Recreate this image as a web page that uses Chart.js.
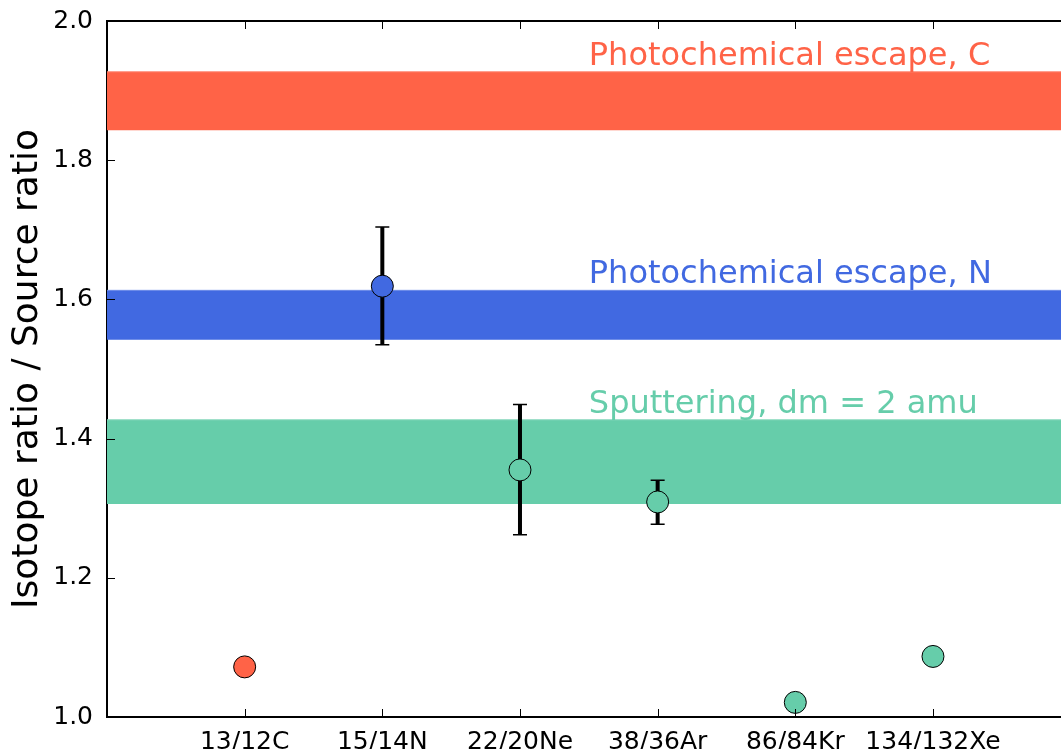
<!DOCTYPE html>
<html>
<head>
<meta charset="utf-8">
<script src="https://cdn.jsdelivr.net/npm/chart.js@4.4.0/dist/chart.umd.min.js"></script>
<style>
  html, body { margin: 0; background: #fff; overflow: hidden; }
</style>
</head>
<body>
<canvas id="ratioChart" width="1061" height="749"></canvas>
<script>
// isotope pairs along the x axis
const categories = ["13/12C", "15/14N", "22/20Ne", "38/36Ar", "86/84Kr", "134/132Xe"];
const catPos = [1, 2, 3, 4, 5, 6];
// measured ratio / source ratio
const ratios = [1.072, 1.619, 1.355, 1.309, 1.021, 1.087];
const errHigh = [null, 1.704, 1.449, 1.340, null, null];
const errLow = [null, 1.535, 1.262, 1.277, null, null];
const pointColors = ["#FF6347", "#4169E1", "#66CDAA", "#66CDAA", "#66CDAA", "#66CDAA"];

// model bands
const bandNames = ["Photochemical escape, C", "Photochemical escape, N", "Sputtering, dm = 2 amu"];
const bandLow = [1.843, 1.542, 1.306];
const bandHigh = [1.927, 1.613, 1.427];
const bandColors = ["#FF6347", "#4169E1", "#66CDAA"];
const bandEdge = ["#FF8A75", "#6C8BE8", "#8BD9BE"];

const yTicks = [1.0, 1.2, 1.4, 1.6, 1.8, 2.0];
const xMin = 0, xMax = 6.93;
const FONT = "DejaVu Sans";

// datasets: points first so they end up on top
const datasets = [{
  type: "scatter",
  data: catPos.map((x, i) => ({ x: x, y: ratios[i] })),
  pointRadius: 11,
  pointHoverRadius: 11,
  pointBackgroundColor: pointColors,
  pointBorderColor: "#000",
  pointBorderWidth: 1,
}];
for (let i = 0; i < bandNames.length; i++) {
  datasets.push({
    type: "line",
    data: [{ x: xMin, y: bandLow[i] }, { x: xMax, y: bandLow[i] }],
    borderWidth: 0,
    pointRadius: 0,
    fill: false,
  });
  datasets.push({
    type: "line",
    data: [{ x: xMin, y: bandHigh[i] }, { x: xMax, y: bandHigh[i] }],
    borderColor: bandEdge[i],
    borderWidth: 1,
    pointRadius: 0,
    backgroundColor: bandColors[i],
    fill: "-1",
  });
}

// error bars go under the markers
const errorBars = {
  id: "errorBars",
  beforeDatasetDraw(chart, args) {
    if (args.index !== 0) return;
    const ctx = chart.ctx, xs = chart.scales.x, ys = chart.scales.y;
    ctx.save();
    ctx.strokeStyle = "#000";
    for (let i = 0; i < catPos.length; i++) {
      if (errHigh[i] === null) continue;
      const px = xs.getPixelForValue(catPos[i]);
      const top = ys.getPixelForValue(errHigh[i]);
      const bot = ys.getPixelForValue(errLow[i]);
      ctx.lineWidth = 4;
      ctx.beginPath();
      ctx.moveTo(px, top);
      ctx.lineTo(px, bot);
      ctx.stroke();
      ctx.lineWidth = 1.5;
      ctx.beginPath();
      ctx.moveTo(px - 7, top);
      ctx.lineTo(px + 7, top);
      ctx.moveTo(px - 7, bot);
      ctx.lineTo(px + 7, bot);
      ctx.stroke();
    }
    ctx.restore();
  },
};

// band names just above each band
const bandLabels = {
  id: "bandLabels",
  afterDatasetsDraw(chart) {
    const ctx = chart.ctx, xs = chart.scales.x, ys = chart.scales.y;
    ctx.save();
    ctx.font = "32px '" + FONT + "'";
    ctx.textAlign = "left";
    ctx.textBaseline = "alphabetic";
    for (let i = 0; i < bandNames.length; i++) {
      ctx.fillStyle = bandColors[i];
      ctx.fillText(bandNames[i], xs.getPixelForValue(3.5), ys.getPixelForValue(bandHigh[i]) - 7);
    }
    ctx.restore();
  },
};

// matplotlib style inward ticks
const innerTicks = {
  id: "innerTicks",
  afterDraw(chart) {
    const ctx = chart.ctx, xs = chart.scales.x, ys = chart.scales.y;
    const a = chart.chartArea;
    ctx.save();
    ctx.strokeStyle = "#000";
    ctx.lineWidth = 1;
    ctx.beginPath();
    for (const v of catPos) {
      const px = Math.round(xs.getPixelForValue(v)) + 0.5;
      ctx.moveTo(px, a.bottom);
      ctx.lineTo(px, a.bottom - 8);
      ctx.moveTo(px, a.top);
      ctx.lineTo(px, a.top + 8);
    }
    for (const v of yTicks) {
      const py = Math.round(ys.getPixelForValue(v)) + 0.5;
      ctx.moveTo(a.left, py);
      ctx.lineTo(a.left + 8, py);
    }
    ctx.stroke();
    ctx.restore();
  },
};

// the plot runs right up to the edge of the figure
function noSidePadding(scale) {
  scale.paddingLeft = 0;
  scale.paddingRight = 0;
}

new Chart(document.getElementById("ratioChart"), {
  data: { datasets: datasets },
  plugins: [errorBars, bandLabels, innerTicks],
  options: {
    responsive: false,
    animation: false,
    layout: { padding: 0, autoPadding: false },
    plugins: {
      legend: { display: false },
      tooltip: { enabled: false },
    },
    scales: {
      x: {
        type: "linear",
        position: "bottom",
        min: xMin,
        max: xMax,
        grid: { display: false },
        border: { display: true, color: "#000", width: 2 },
        afterBuildTicks: (scale) => {
          scale.ticks = catPos.map((v) => ({ value: v }));
        },
        afterFit: (scale) => {
          scale.height = 32;
          noSidePadding(scale);
        },
        ticks: {
          autoSkip: false,
          maxRotation: 0,
          padding: 2,
          color: "#000",
          font: { family: FONT, size: 25 },
          callback: (v) => categories[catPos.indexOf(v)],
        },
      },
      xTop: {
        type: "linear",
        position: "top",
        min: xMin,
        max: xMax,
        grid: { display: false },
        border: { display: true, color: "#000", width: 2 },
        ticks: { display: false },
        afterFit: (scale) => {
          scale.height = 20;
          noSidePadding(scale);
        },
      },
      y: {
        type: "linear",
        min: 1,
        max: 2,
        grid: { display: false },
        border: { display: true, color: "#000", width: 2 },
        afterBuildTicks: (scale) => {
          scale.ticks = yTicks.map((v) => ({ value: v }));
        },
        afterFit: (scale) => { scale.width = 107; },
        ticks: {
          padding: 6,
          color: "#000",
          font: { family: FONT, size: 25 },
          callback: (v) => v.toFixed(1),
        },
        title: {
          display: true,
          text: "Isotope ratio / Source ratio",
          color: "#000",
          font: { family: FONT, size: 36 },
          padding: { top: 6, bottom: 0 },
        },
      },
    },
  },
});
</script>
</body>
</html>
